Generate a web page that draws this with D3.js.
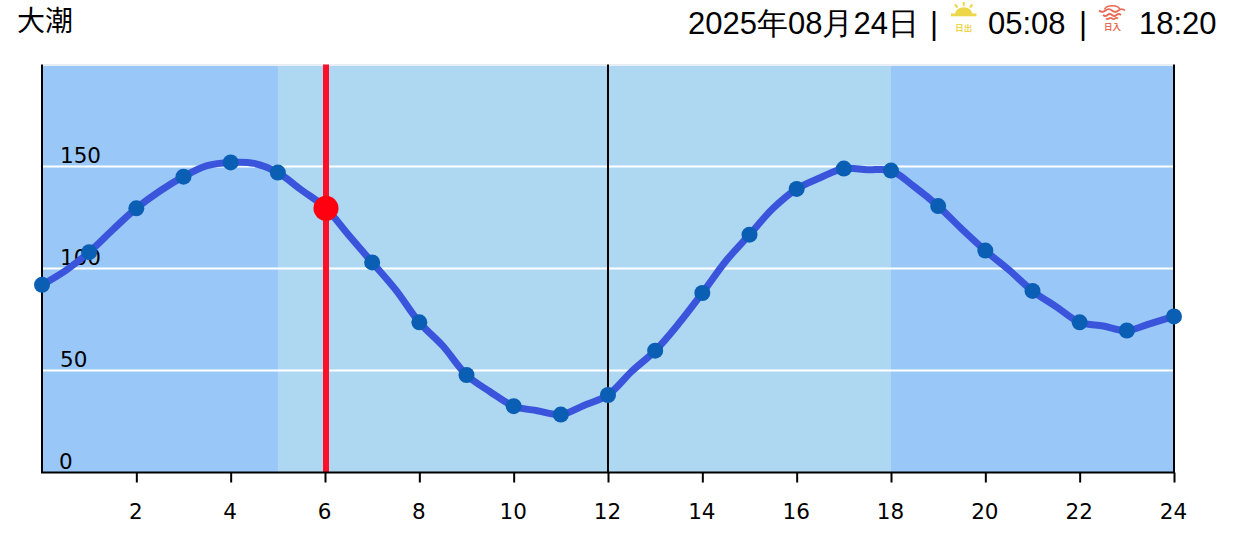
<!DOCTYPE html>
<html><head><meta charset="utf-8">
<script src="https://cdn.jsdelivr.net/npm/d3@7/dist/d3.min.js"></script>
<style>html,body{margin:0;padding:0;background:#fff}svg{display:block}</style>
</head><body><svg id="c" width="1235" height="546"></svg>
<script>
const hours = [0,0.5,1,1.5,2,2.5,3,3.5,4,4.5,5,5.5,6,6.5,7,7.5,8,8.5,9,9.5,10,10.5,11,11.5,12,12.5,13,13.5,14,14.5,15,15.5,16,16.5,17,17.5,18,18.5,19,19.5,20,20.5,21,21.5,22,22.5,23,23.5,24];
const tide = [92,99,108,119,129.5,138,145,150.4,152,151.5,147,138.5,130,116.4,103,89.5,73.6,62,47.8,39.6,32.5,30.3,28.4,33,38,49.5,59.7,73,88,103.7,116.6,129.5,139,144.5,149,148.4,148,140,130.6,119.4,108.8,99.3,89,81.3,73.6,71.8,69.6,73,76.5];
const yTicks = [0,50,100,150];
const xTicks = [2,4,6,8,10,12,14,16,18,20,22,24];
const daylight = [5,18];
const noon = 12;
const currentHour = 6;
const currentValue = 129.5;
const titleText = "大潮";
const dateText = "2025年08月24日";
const sunriseText = "05:08";
const sunsetText = "18:20";

const svg = d3.select("#c");
const x = d3.scaleLinear().domain([0,24]).range([42,1174]);
const y = d3.scaleLinear().domain([0,200]).range([472.5,64.5]);
const sans = "'Liberation Sans',Arial,sans-serif", cjk = "'Noto Sans CJK JP',sans-serif", tick = "'DejaVu Sans',sans-serif";

svg.append("rect").attr("x",x(0)).attr("y",y(200)).attr("width",x(24)-x(0)).attr("height",y(0)-y(200)).attr("fill","#99c8f8");
svg.append("rect").attr("x",x(daylight[0])).attr("y",y(200)).attr("width",x(daylight[1])-x(daylight[0])).attr("height",y(0)-y(200)).attr("fill","#aed7f2");
svg.append("line").attr("x1",x(0)).attr("x2",x(24)).attr("y1",y(200)+.5).attr("y2",y(200)+.5).attr("stroke","#e8eef4").attr("stroke-width",2);

svg.selectAll(".g").data(yTicks.slice(1)).join("line").attr("x1",x(0)).attr("x2",x(24)).attr("y1",d=>y(d)).attr("y2",d=>y(d)).attr("stroke","#fff").attr("stroke-width",2);

svg.append("line").attr("x1",x(currentHour)+1).attr("x2",x(currentHour)+1).attr("y1",y(200)).attr("y2",y(0)).attr("stroke","#ff1028").attr("stroke-width",6);
[0,noon,24].forEach(h=>svg.append("line").attr("x1",x(h)).attr("x2",x(h)).attr("y1",y(200)).attr("y2",y(0)).attr("stroke","#000").attr("stroke-width",2));

const xAxis = d3.axisBottom(x).tickValues(xTicks).tickSize(10).tickPadding(21).tickFormat(d3.format("d"));
const gx = svg.append("g").attr("transform",`translate(0,${y(0)})`).call(xAxis);
gx.select(".domain").attr("stroke","#000").attr("stroke-width",2).attr("d",`M${x(0)-1},0H${x(24)+1}`);
gx.selectAll(".tick line").attr("stroke","#000").attr("stroke-width",2);
gx.selectAll("text").attr("font-family",tick).attr("font-size",21.5).attr("fill","#000").attr("dx",-1);

svg.selectAll(".yl").data(yTicks).join("text").attr("x",d=>d==0?59:60).attr("y",d=>y(d)-3.6).attr("font-family",tick).attr("font-size",21.5).attr("fill","#000").text(d=>d);

const line = d3.line().x(d=>x(d)).y((d,i)=>y(tide[i])).curve(d3.curveCatmullRom);
svg.append("path").attr("d",line(hours)).attr("fill","none").attr("stroke","#3a55dc").attr("stroke-width",7);
const markers = hours.map((h,i)=>({h,v:tide[i]})).filter(d=>Number.isInteger(d.h));
svg.selectAll(".p").data(markers).join("circle").attr("cx",d=>x(d.h)).attr("cy",d=>y(d.v)).attr("r",8).attr("fill","#0a5fb4");
svg.append("circle").attr("cx",x(currentHour)+1).attr("cy",y(currentValue)).attr("r",12.5).attr("fill","#ff0010");

svg.append("text").attr("x",17).attr("y",31).attr("font-family",cjk).attr("font-size",28).attr("fill","#000").text(titleText);
const hdr = (tx,xp)=>svg.append("text").attr("x",xp).attr("y",34).attr("font-family",sans).attr("font-size",31).attr("fill","#000").text(tx);
hdr(dateText,688); hdr("|",930); hdr(sunriseText,988); hdr("|",1079); hdr(sunsetText,1139);

// sunrise icon
const sunColor = "#ecd64a", setColor = "#ea6b55";
const si = svg.append("g");
si.append("path").attr("d","M955,14A8.7,6.8 0 0 1 972.4,14Z").attr("fill",sunColor);
si.append("rect").attr("x",951).attr("y",13.5).attr("width",25.5).attr("height",2.8).attr("fill",sunColor);
[[963.7,2,963.7,6],[955,4.5,957.5,7.5],[972.4,4.5,969.9,7.5]].forEach(l=>si.append("line").attr("x1",l[0]).attr("y1",l[1]).attr("x2",l[2]).attr("y2",l[3]).attr("stroke",sunColor).attr("stroke-width",2));
svg.append("text").attr("x",963.7).attr("y",31).attr("text-anchor","middle").attr("font-family",cjk).attr("font-weight",700).attr("font-size",8.5).attr("fill",sunColor).text("日出");
// sunset icon
const ss = svg.append("g").attr("fill","none").attr("stroke",setColor).attr("stroke-width",1.7);
ss.append("path").attr("d","M1104.5,9.5A8,5 0 0 1 1120,9.5");
["M1099,10.5q3.2,2.6 6.5,0t6.5,0t6.5,0t6.5,0","M1103,15q2.3,2 4.5,0t4.5,0t4.5,0t4.5,0","M1106,18.5q1.5,1.2 3,0t3,0t3,0t3,0"].forEach(d=>ss.append("path").attr("d",d));
svg.append("text").attr("x",1112.5).attr("y",30).attr("text-anchor","middle").attr("font-family",cjk).attr("font-weight",700).attr("font-size",8.5).attr("fill",setColor).text("日入");
</script></body></html>
